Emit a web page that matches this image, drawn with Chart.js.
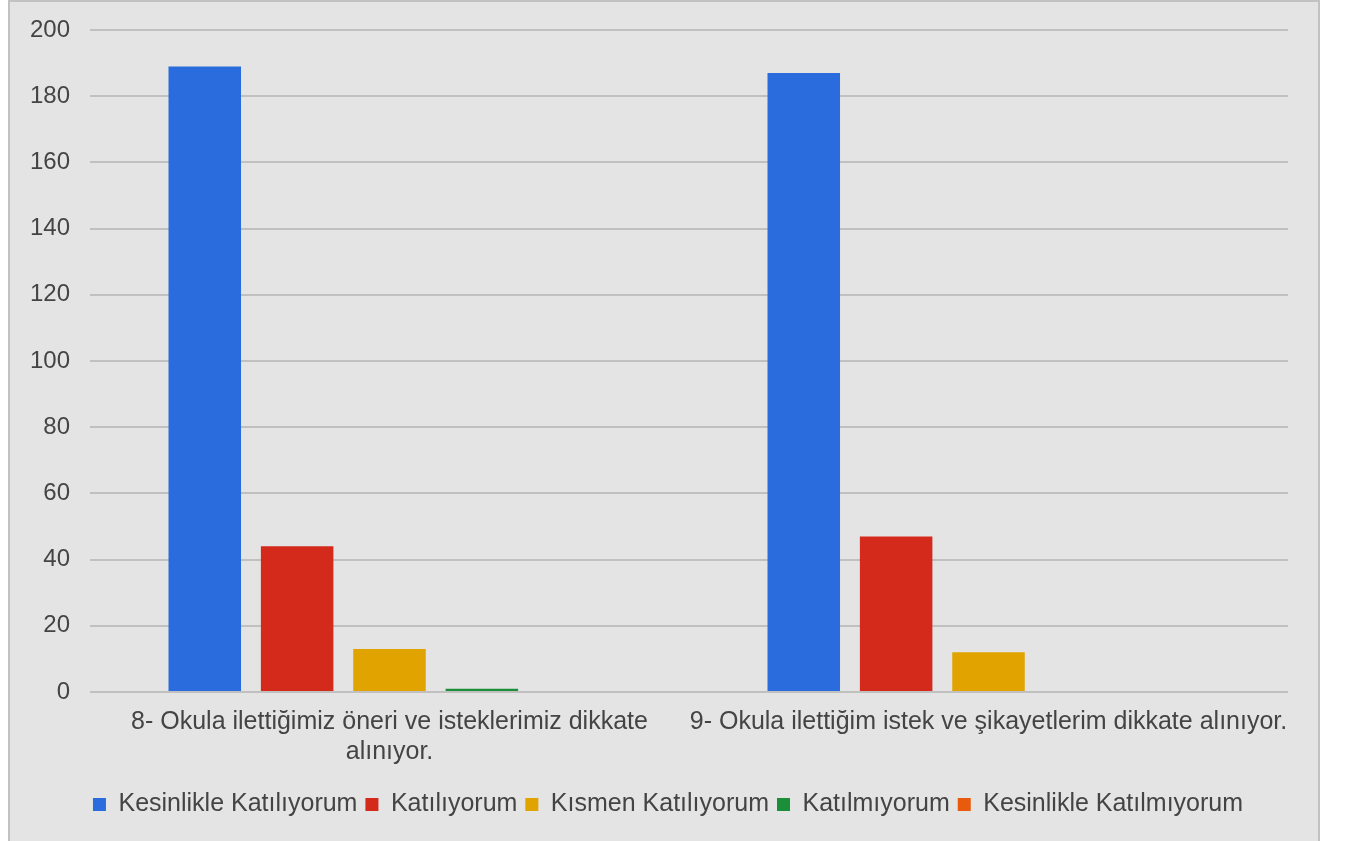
<!DOCTYPE html>
<html>
<head>
<meta charset="utf-8">
<script src="https://cdn.jsdelivr.net/npm/chart.js@4.4.1/dist/chart.umd.min.js"></script>
<style>
  html, body { margin: 0; padding: 0; background: #ffffff; overflow: hidden; }
  #box { position: absolute; left: 8px; top: 0px; width: 1308px; height: 845px;
         border: 2px solid #c2c2c2; background: #e4e4e4; }
  #wrap { position: absolute; left: 0; top: 0; width: 1308px; height: 839px; }
</style>
</head>
<body>
<div id="box"><div id="wrap"><canvas id="c" width="1308" height="839"></canvas></div></div>
<script>
const categories = [
  ["8- Okula ilettiğimiz öneri ve isteklerimiz dikkate", "alınıyor."],
  "9- Okula ilettiğim istek ve şikayetlerim dikkate alınıyor."
];
const seriesNames = ["Kesinlikle Katılıyorum", "Katılıyorum", "Kısmen Katılıyorum", "Katılmıyorum", "Kesinlikle Katılmıyorum"];
const kesinlikleKatiliyorum = [189, 187];
const katiliyorum = [44, 47];
const kismenKatiliyorum = [13, 12];
const katilmiyorum = [1, 0];
const kesinlikleKatilmiyorum = [0, 0];
const yTicks = [0, 20, 40, 60, 80, 100, 120, 140, 160, 180, 200];
const colors = ["#2a6cdd", "#d32a1c", "#e1a300", "#1b8e3a", "#e85b0c"];

const seriesValues = [kesinlikleKatiliyorum, katiliyorum, kismenKatiliyorum, katilmiyorum, kesinlikleKatilmiyorum];
const FONT = "'Liberation Sans', Arial, sans-serif";

new Chart(document.getElementById('c'), {
  type: 'bar',
  data: {
    labels: categories,
    datasets: seriesNames.map((n, i) => ({
      label: n,
      data: seriesValues[i],
      backgroundColor: colors[i],
      borderWidth: 0,
      categoryPercentage: 0.771,
      barPercentage: 0.785
    }))
  },
  options: {
    responsive: false,
    animation: false,
    layout: { padding: { left: 8, right: 0, top: 28, bottom: 14 } },
    plugins: {
      tooltip: { enabled: false },
      legend: {
        position: 'bottom',
        labels: {
          boxWidth: 13, boxHeight: 13, padding: 8,
          color: '#444444',
          font: { family: FONT, size: 25 }
        }
      }
    },
    scales: {
      x: {
        grid: { display: false, drawTicks: false },
        border: { display: false },
        ticks: {
          color: '#444444', font: { family: FONT, size: 25, lineHeight: 1.2 },
          padding: 15, maxRotation: 0, minRotation: 0, autoSkip: false
        },
        afterFit: (s) => { s.height = 92; }
      },
      y: {
        min: 0, max: 200,
        afterBuildTicks: (s) => { s.ticks = yTicks.map(v => ({ value: v })); },
        grid: { color: '#c0c0c0', lineWidth: 2, drawTicks: false },
        border: { display: false },
        ticks: { color: '#444444', font: { family: FONT, size: 24 }, padding: 20 },
        afterFit: (s) => { s.width = 72; s.paddingTop = 0; s.paddingBottom = 0; }
      },
      yRight: {
        position: 'right',
        display: true,
        grid: { display: false, drawTicks: false },
        border: { display: false },
        ticks: { display: false },
        afterFit: (s) => { s.width = 30; s.paddingTop = 0; s.paddingBottom = 0; }
      }
    }
  }
});
</script>
</body>
</html>
